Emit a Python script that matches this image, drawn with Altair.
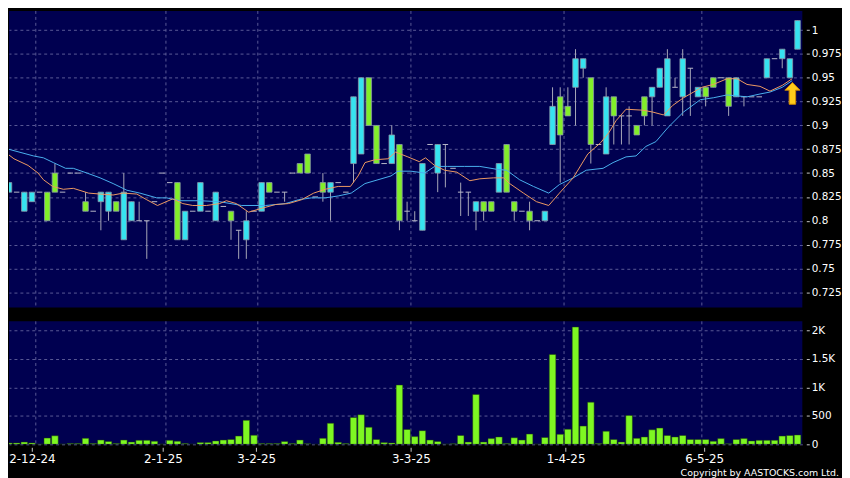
import altair as alt
import pandas as pd

# ---------------- data ----------------
open_ = [0.83,0.83,0.81,0.82,0.83,0.83,0.85,0.83,0.85,0.85,
         0.82,0.81,0.82,0.81,0.82,0.78,0.80,0.80,0.80,0.82,
         0.85,0.84,0.84,0.78,0.81,0.81,0.81,0.80,0.815,0.81,
         0.79,0.78,0.81,0.81,0.84,0.83,0.83,0.85,0.86,0.87,
         0.825,0.84,0.83,0.84,0.83,0.86,0.87,0.95,0.90,0.86,
         0.86,0.88,0.81,0.80,0.79,0.88,0.85,0.88,0.855,0.83,
         0.83,0.81,0.82,0.82,0.83,0.88,0.82,0.81,0.81,0.80,
         0.80,0.88,0.93,0.92,0.94,0.96,0.95,0.88,0.87,0.93,
         0.91,0.91,0.90,0.93,0.93,0.94,0.91,0.94,0.93,0.96,
         0.93,0.94,0.95,0.95,0.95,0.93,0.93,0.93,0.93,0.95,
         0.97,0.97,0.95,0.98]
close = [0.84,0.83,0.83,0.83,0.83,0.80,0.83,0.83,0.85,0.85,
         0.81,0.81,0.83,0.83,0.81,0.83,0.82,0.80,0.80,0.82,
         0.85,0.84,0.78,0.81,0.81,0.84,0.81,0.83,0.815,0.80,
         0.79,0.80,0.81,0.84,0.83,0.83,0.83,0.85,0.85,0.85,
         0.825,0.83,0.84,0.84,0.83,0.93,0.95,0.90,0.86,0.86,
         0.89,0.80,0.81,0.80,0.86,0.88,0.88,0.88,0.855,0.83,
         0.83,0.82,0.81,0.81,0.86,0.83,0.81,0.81,0.80,0.80,
         0.81,0.92,0.89,0.91,0.97,0.97,0.88,0.88,0.93,0.91,
         0.91,0.91,0.89,0.91,0.94,0.96,0.97,0.94,0.97,0.96,
         0.94,0.93,0.94,0.95,0.92,0.95,0.93,0.93,0.93,0.97,
         0.97,0.98,0.97,1.01]
high = [0.84,0.83,0.83,0.83,0.83,0.83,0.86,0.83,0.85,0.85,
        0.83,0.81,0.83,0.83,0.82,0.85,0.82,0.82,0.80,0.82,
        0.85,0.84,0.84,0.81,0.81,0.84,0.81,0.83,0.815,0.81,
        0.79,0.81,0.81,0.84,0.84,0.83,0.83,0.85,0.86,0.87,
        0.825,0.85,0.84,0.84,0.83,0.93,0.95,0.95,0.90,0.86,
        0.90,0.88,0.82,0.81,0.86,0.88,0.88,0.88,0.855,0.84,
        0.83,0.82,0.82,0.82,0.86,0.88,0.82,0.81,0.82,0.80,
        0.81,0.94,0.94,0.94,0.98,0.97,0.95,0.88,0.94,0.93,
        0.91,0.92,0.90,0.93,0.94,0.96,0.98,0.95,0.98,0.96,
        0.94,0.94,0.95,0.95,0.95,0.95,0.93,0.93,0.93,0.97,
        0.97,0.98,0.97,1.01]
low = [0.83,0.83,0.81,0.82,0.83,0.80,0.83,0.83,0.85,0.85,
       0.81,0.81,0.79,0.80,0.81,0.78,0.80,0.80,0.76,0.82,
       0.85,0.84,0.78,0.78,0.81,0.81,0.81,0.80,0.815,0.78,
       0.76,0.76,0.81,0.81,0.83,0.83,0.82,0.85,0.85,0.85,
       0.825,0.82,0.80,0.84,0.83,0.84,0.87,0.90,0.86,0.86,
       0.86,0.79,0.80,0.80,0.79,0.88,0.83,0.835,0.855,0.805,
       0.805,0.79,0.80,0.81,0.83,0.83,0.80,0.81,0.79,0.80,
       0.80,0.88,0.84,0.91,0.90,0.95,0.86,0.88,0.87,0.88,
       0.88,0.88,0.89,0.90,0.90,0.94,0.91,0.94,0.91,0.91,
       0.93,0.92,0.94,0.95,0.91,0.93,0.92,0.93,0.93,0.95,
       0.97,0.96,0.95,0.98]
volume = [25,25,40,25,5,110,150,5,15,15,
          105,15,75,50,15,75,40,70,70,55,
          5,70,55,15,3,30,30,60,75,85,
          145,420,160,15,15,15,50,15,75,10,
          0,105,370,35,15,470,520,300,85,30,
          25,1040,260,135,240,75,50,5,10,155,
          40,875,40,100,130,15,115,75,180,5,
          120,1577,175,265,2058,320,740,15,230,85,
          40,505,105,130,255,285,155,130,155,85,
          85,85,55,100,10,85,100,60,70,70,
          70,145,155,165]

ma_short_day = [-0.5,0.65,2.5,3.8,4.5,5.7,7.1,8.4,10.4,11.9,
                13.6,14.9,16.7,18.0,19.4,21.4,22.7,24.0,25.8,27.5,
                28.4,29.7,31.3,33.0,34.8,36.5,38.2,39.8,41.3,43.0,
                44.6,45.6,46.5,47.8,49.5,50.5,52.1,53.6,54.4,55.6,
                56.9,58.5,60.2,61.5,63.3,64.6,65.4,67.2,68.9,70.5,
                71.9,73.7,75.6,77.3,78.4,79.3,80.6,82.8,84.1,85.5,
                86.7,88.1,90.5,92.0,93.8,95.1,96.4,98.1,99.4,101.0,102.3]
ma_short = [0.872,0.865,0.858,0.850,0.843,0.836,0.833,0.834,0.829,0.828,
            0.827,0.829,0.828,0.822,0.816,0.823,0.818,0.816,0.816,0.818,
            0.821,0.818,0.809,0.813,0.817,0.818,0.822,0.829,0.833,0.836,
            0.836,0.847,0.861,0.864,0.865,0.872,0.867,0.862,0.866,0.858,
            0.853,0.851,0.842,0.844,0.845,0.845,0.839,0.829,0.820,0.816,
            0.829,0.845,0.870,0.882,0.893,0.905,0.917,0.916,0.914,0.911,
            0.921,0.929,0.940,0.943,0.949,0.949,0.943,0.941,0.936,0.942,0.949]
ma_long_day = [-0.5,3.2,4.5,5.8,7.4,8.4,10.2,11.9,13.6,15.4,
               17.1,19.3,20.6,22.3,24.9,27.5,30.4,33.5,36.1,37.8,
               39.5,41.3,43.0,44.7,46.5,48.2,49.9,50.8,52.5,54.3,
               55.6,57.3,59.5,61.5,63.7,65.0,66.7,68.5,70.5,71.9,
               73.7,75.4,77.6,78.9,80.6,81.9,83.2,84.5,86.1,88.1,
               90.3,92.0,93.8,95.1,96.4,98.1,99.4,101.0,102.3]
ma_long = [0.876,0.868,0.866,0.861,0.855,0.855,0.850,0.845,0.839,0.832,
           0.829,0.824,0.824,0.821,0.821,0.820,0.816,0.816,0.818,0.822,
           0.824,0.824,0.826,0.829,0.839,0.843,0.847,0.852,0.852,0.850,
           0.857,0.857,0.857,0.857,0.854,0.853,0.843,0.836,0.829,0.838,
           0.845,0.853,0.855,0.861,0.867,0.868,0.878,0.883,0.898,0.914,
           0.927,0.929,0.932,0.931,0.930,0.933,0.935,0.940,0.947]

date_tick_day = [3, 20.1, 32.3, 52.5, 72.7, 90.8]
date_tick_label = ["2-12-24", "2-1-25", "3-2-25", "3-3-25", "1-4-25", "6-5-25"]
date_grid_day = [3.5, 20.5, 32.5, 52.5, 72.5, 90.5]
price_ticks = [0.725, 0.75, 0.775, 0.8, 0.825, 0.85, 0.875, 0.9, 0.925, 0.95, 0.975, 1.0]
volume_ticks = [0, 500, 1000, 1500, 2000]
signal_day = [102.33]
signal_price = [0.9336]

# ---------------- styling ----------------
NAVY = "#000050"
GRID = "#5a5a96"
UP = "#36e3f0"
DOWN = "#82ee2a"
VOL = "#7ef722"
WICK = "#a8a8b8"
FONT = "DejaVu Sans"

df = pd.DataFrame({"day": list(range(len(open_))), "open": open_, "close": close,
                   "high": high, "low": low, "volume": volume})
df["x1"] = df["day"] - 0.36
df["x2"] = df["day"] + 0.36
df["vx1"] = df["day"] - 0.43
df["vx2"] = df["day"] + 0.43
df["dir"] = ["up" if c > o else ("down" if c < o else "flat") for o, c in zip(open_, close)]

XDOM = [0.0, 800 / 7.72]
xq = alt.Scale(domain=XDOM, nice=False, zero=False)
py = alt.Scale(domain=[0.709, 1.0201], nice=False, zero=False)
vy = alt.Scale(domain=[0, 2157], nice=False)

base = alt.Chart(df)
grid_df = pd.DataFrame({"g": date_grid_day})

price_axis = alt.Axis(orient="right", values=price_ticks, format=".3~f", labelColor="white",
                      labelFont=FONT, labelFontSize=10.5, tickColor="#c8c8c8", tickSize=3,
                      labelPadding=2, offset=4, domain=False, grid=True, gridColor=GRID,
                      gridDash=[3, 3], gridWidth=1, title=None, labelOverlap=False,
                      labelBound=False)

vgrid_p = alt.Chart(grid_df).mark_rule(color=GRID, strokeDash=[3, 3], strokeWidth=1).encode(
    x=alt.X("g:Q", scale=xq, axis=None))

wicks = base.mark_rule(color=WICK, strokeWidth=1, clip=True).encode(
    x=alt.X("day:Q", scale=xq, axis=None),
    y=alt.Y("low:Q", scale=py, axis=price_axis),
    y2="high:Q")

bodies = base.transform_filter("datum.dir != 'flat'").mark_bar(
    stroke="#8a98a8", strokeWidth=0.8, clip=True).encode(
    x=alt.X("x1:Q", scale=xq, axis=None), x2="x2:Q",
    y=alt.Y("open:Q", scale=py, axis=price_axis), y2="close:Q",
    color=alt.Color("dir:N", scale=alt.Scale(domain=["up", "down"], range=[UP, DOWN]), legend=None))

dojis = base.transform_filter("datum.dir == 'flat'").mark_rule(
    color="#b8b8c8", strokeWidth=1, clip=True).encode(
    x=alt.X("x1:Q", scale=xq, axis=None), x2="x2:Q",
    y=alt.Y("close:Q", scale=py, axis=price_axis))

ma_s = alt.Chart(pd.DataFrame({"d": ma_short_day, "v": ma_short})).mark_line(
    color="#ee9a62", strokeWidth=1, clip=True).encode(
    x=alt.X("d:Q", scale=xq, axis=None), y=alt.Y("v:Q", scale=py, axis=price_axis))
ma_l = alt.Chart(pd.DataFrame({"d": ma_long_day, "v": ma_long})).mark_line(
    color="#4ab0ee", strokeWidth=1, clip=True).encode(
    x=alt.X("d:Q", scale=xq, axis=None), y=alt.Y("v:Q", scale=py, axis=price_axis))

arrow_path = "M0,-1 L0.7,-0.3 L0.3,-0.3 L0.3,1 L-0.3,1 L-0.3,-0.3 L-0.7,-0.3 Z"
arrow = alt.Chart(pd.DataFrame({"d": signal_day, "p": signal_price})).mark_point(
    shape=arrow_path, filled=True, size=480, fill="#ffcc1a", stroke="#d08a00",
    strokeWidth=1, opacity=1).encode(
    x=alt.X("d:Q", scale=xq, axis=None), y=alt.Y("p:Q", scale=py, axis=price_axis))

price = alt.layer(vgrid_p, wicks, bodies, dojis, ma_l, ma_s, arrow).properties(width=800, height=299)

# ---------------- volume panel ----------------
label_expr = " : ".join(f"datum.value == {d} ? '{t}'" for d, t in zip(date_tick_day, date_tick_label)) + " : ''"
x_axis = alt.Axis(orient="bottom", values=date_tick_day, labelExpr=label_expr, labelColor="white",
                  labelFont=FONT, labelFontSize=12, tickColor="#c8c8c8", tickSize=4, offset=3,
                  labelPadding=2, domain=False, grid=False, title=None, labelOverlap=False,
                  labelBound=False, labelFlush=False)
vol_axis = alt.Axis(orient="right", values=volume_ticks,
                    labelExpr="datum.value >= 1000 ? format(datum.value / 1000, '~g') + 'K' : format(datum.value, 'd')",
                    labelColor="white", labelFont=FONT, labelFontSize=10.5, tickColor="#c8c8c8",
                    tickSize=3, labelPadding=2, offset=4, domain=False, grid=True, gridColor=GRID,
                    gridDash=[3, 3], gridWidth=1, title=None, labelOverlap=False)

vgrid_v = alt.Chart(grid_df).mark_rule(color=GRID, strokeDash=[3, 3], strokeWidth=1).encode(
    x=alt.X("g:Q", scale=xq, axis=x_axis))

vbars = base.mark_bar(color=VOL, stroke="#1a3a10", strokeWidth=0.5, clip=True).encode(
    x=alt.X("vx1:Q", scale=xq, axis=x_axis), x2="vx2:Q",
    y=alt.Y("volume:Q", scale=vy, axis=vol_axis), y2=alt.datum(0))

copyright_txt = alt.Chart(pd.DataFrame({"t": ["Copyright by AASTOCKS.com Ltd."]})).mark_text(
    align="right", baseline="middle", color="white", font=FONT, fontSize=9.5).encode(
    text="t:N", x=alt.value(837), y=alt.value(153))

vol = alt.layer(vgrid_v, vbars, copyright_txt).properties(width=800, height=124)

chart = alt.vconcat(price, vol, spacing=12).properties(
    padding=0, background="black").configure_view(fill=NAVY, stroke=None)

chart.save("out.html", embed_options={"renderer": "svg", "actions": False})
